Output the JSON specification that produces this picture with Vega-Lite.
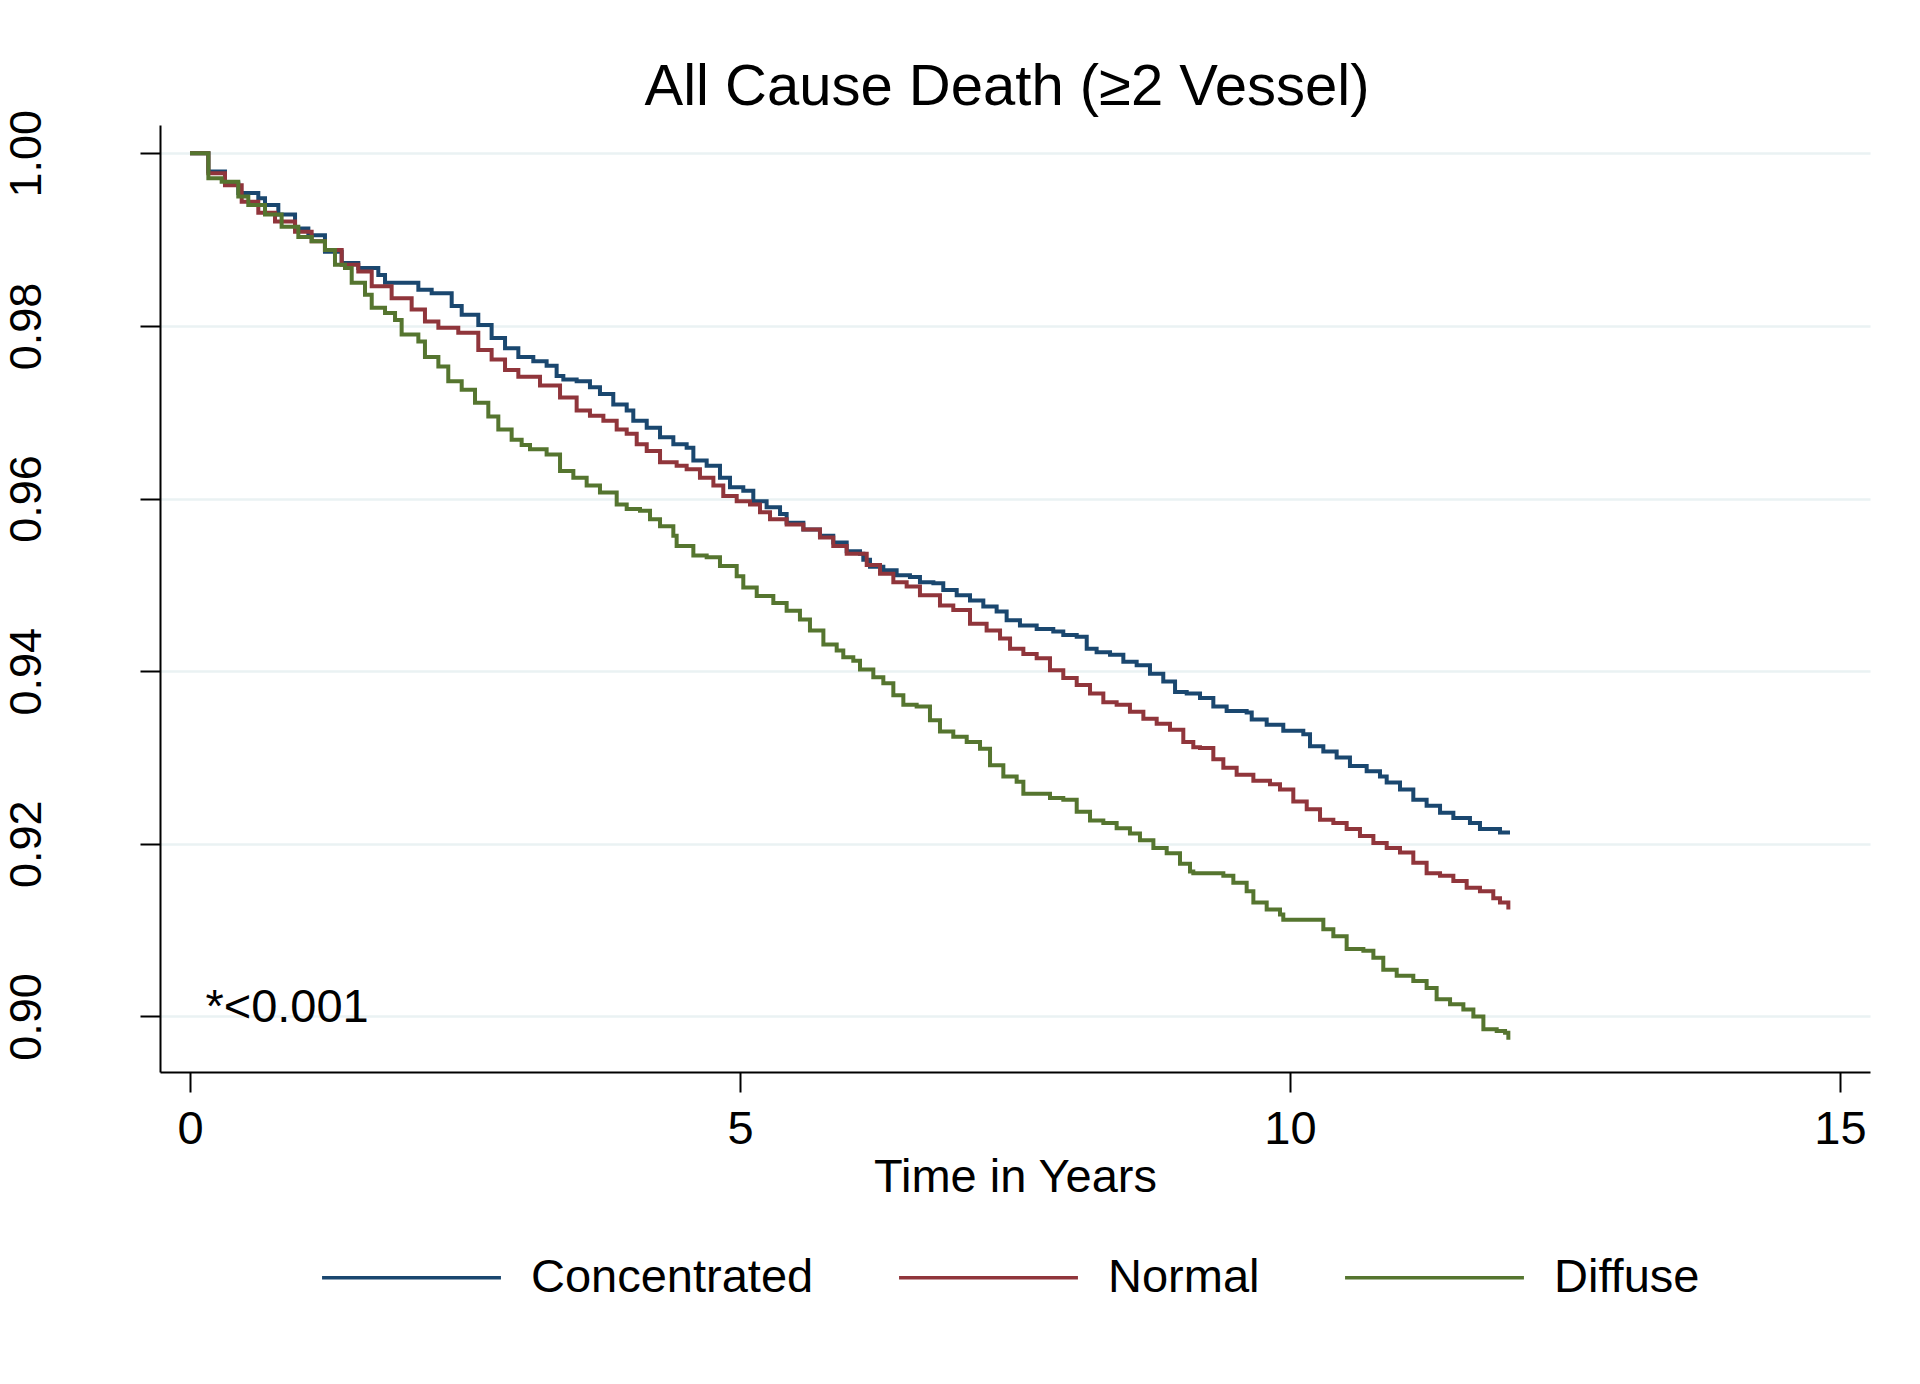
{
  "$schema": "https://vega.github.io/schema/vega-lite/v6.json",
  "autosize": "none",
  "width": 1710,
  "height": 947,
  "padding": {"left": 160, "top": 125, "right": 50, "bottom": 312},
  "background": "white",
  "config": {"view": {"stroke": null}, "font": "Liberation Sans"},
  "title": {"text": "All Cause Death (≥2 Vessel)", "fontSize": 58, "font": "Liberation Sans", "fontWeight": "normal", "color": "black", "offset": 12, "dy": 19, "anchor": "middle", "dx": -8},
  "layer": [
    {
      "data": {"values": [
        {"t":0,"s":1.0,"g":"Concentrated"},{"t":0.167,"s":0.9979,"g":"Concentrated"},{"t":0.318,"s":0.9965,"g":"Concentrated"},{"t":0.439,"s":0.9954,"g":"Concentrated"},{"t":0.621,"s":0.9948,"g":"Concentrated"},{"t":0.682,"s":0.994,"g":"Concentrated"},{"t":0.803,"s":0.9929,"g":"Concentrated"},{"t":0.955,"s":0.9913,"g":"Concentrated"},{"t":1.076,"s":0.9905,"g":"Concentrated"},{"t":1.227,"s":0.9886,"g":"Concentrated"},{"t":1.379,"s":0.9873,"g":"Concentrated"},{"t":1.53,"s":0.9867,"g":"Concentrated"},{"t":1.712,"s":0.9859,"g":"Concentrated"},{"t":1.773,"s":0.985,"g":"Concentrated"},{"t":2.076,"s":0.9842,"g":"Concentrated"},{"t":2.197,"s":0.9838,"g":"Concentrated"},{"t":2.379,"s":0.9823,"g":"Concentrated"},{"t":2.47,"s":0.9813,"g":"Concentrated"},{"t":2.621,"s":0.9801,"g":"Concentrated"},{"t":2.742,"s":0.9786,"g":"Concentrated"},{"t":2.864,"s":0.9774,"g":"Concentrated"},{"t":2.985,"s":0.9764,"g":"Concentrated"},{"t":3.121,"s":0.9759,"g":"Concentrated"},{"t":3.242,"s":0.9754,"g":"Concentrated"},{"t":3.333,"s":0.9742,"g":"Concentrated"},{"t":3.394,"s":0.9738,"g":"Concentrated"},{"t":3.515,"s":0.9736,"g":"Concentrated"},{"t":3.636,"s":0.9729,"g":"Concentrated"},{"t":3.727,"s":0.9721,"g":"Concentrated"},{"t":3.848,"s":0.9709,"g":"Concentrated"},{"t":3.97,"s":0.9702,"g":"Concentrated"},{"t":4.03,"s":0.969,"g":"Concentrated"},{"t":4.152,"s":0.9682,"g":"Concentrated"},{"t":4.273,"s":0.9671,"g":"Concentrated"},{"t":4.394,"s":0.9663,"g":"Concentrated"},{"t":4.515,"s":0.9659,"g":"Concentrated"},{"t":4.576,"s":0.9644,"g":"Concentrated"},{"t":4.697,"s":0.9638,"g":"Concentrated"},{"t":4.818,"s":0.9624,"g":"Concentrated"},{"t":4.909,"s":0.9613,"g":"Concentrated"},{"t":5.03,"s":0.9609,"g":"Concentrated"},{"t":5.121,"s":0.9597,"g":"Concentrated"},{"t":5.242,"s":0.959,"g":"Concentrated"},{"t":5.364,"s":0.9582,"g":"Concentrated"},{"t":5.424,"s":0.9572,"g":"Concentrated"},{"t":5.576,"s":0.9564,"g":"Concentrated"},{"t":5.727,"s":0.9557,"g":"Concentrated"},{"t":5.848,"s":0.9549,"g":"Concentrated"},{"t":5.97,"s":0.9539,"g":"Concentrated"},{"t":6.091,"s":0.9536,"g":"Concentrated"},{"t":6.121,"s":0.9529,"g":"Concentrated"},{"t":6.182,"s":0.9521,"g":"Concentrated"},{"t":6.303,"s":0.9517,"g":"Concentrated"},{"t":6.424,"s":0.9511,"g":"Concentrated"},{"t":6.545,"s":0.9509,"g":"Concentrated"},{"t":6.636,"s":0.9503,"g":"Concentrated"},{"t":6.758,"s":0.9502,"g":"Concentrated"},{"t":6.848,"s":0.9494,"g":"Concentrated"},{"t":6.97,"s":0.9488,"g":"Concentrated"},{"t":7.091,"s":0.9482,"g":"Concentrated"},{"t":7.212,"s":0.9475,"g":"Concentrated"},{"t":7.333,"s":0.9469,"g":"Concentrated"},{"t":7.424,"s":0.9459,"g":"Concentrated"},{"t":7.545,"s":0.9453,"g":"Concentrated"},{"t":7.697,"s":0.9449,"g":"Concentrated"},{"t":7.848,"s":0.9446,"g":"Concentrated"},{"t":7.939,"s":0.9442,"g":"Concentrated"},{"t":8.061,"s":0.944,"g":"Concentrated"},{"t":8.152,"s":0.9426,"g":"Concentrated"},{"t":8.242,"s":0.9422,"g":"Concentrated"},{"t":8.364,"s":0.9419,"g":"Concentrated"},{"t":8.485,"s":0.9411,"g":"Concentrated"},{"t":8.606,"s":0.9407,"g":"Concentrated"},{"t":8.727,"s":0.9397,"g":"Concentrated"},{"t":8.848,"s":0.9388,"g":"Concentrated"},{"t":8.955,"s":0.9376,"g":"Concentrated"},{"t":9.061,"s":0.9374,"g":"Concentrated"},{"t":9.182,"s":0.9369,"g":"Concentrated"},{"t":9.303,"s":0.9359,"g":"Concentrated"},{"t":9.424,"s":0.9354,"g":"Concentrated"},{"t":9.606,"s":0.9352,"g":"Concentrated"},{"t":9.652,"s":0.9344,"g":"Concentrated"},{"t":9.788,"s":0.9338,"g":"Concentrated"},{"t":9.939,"s":0.9331,"g":"Concentrated"},{"t":10.121,"s":0.9327,"g":"Concentrated"},{"t":10.182,"s":0.9313,"g":"Concentrated"},{"t":10.303,"s":0.9307,"g":"Concentrated"},{"t":10.424,"s":0.93,"g":"Concentrated"},{"t":10.545,"s":0.929,"g":"Concentrated"},{"t":10.697,"s":0.9284,"g":"Concentrated"},{"t":10.818,"s":0.9278,"g":"Concentrated"},{"t":10.879,"s":0.9271,"g":"Concentrated"},{"t":11.0,"s":0.9263,"g":"Concentrated"},{"t":11.121,"s":0.9251,"g":"Concentrated"},{"t":11.242,"s":0.9244,"g":"Concentrated"},{"t":11.364,"s":0.9236,"g":"Concentrated"},{"t":11.485,"s":0.923,"g":"Concentrated"},{"t":11.636,"s":0.9224,"g":"Concentrated"},{"t":11.727,"s":0.9217,"g":"Concentrated"},{"t":11.909,"s":0.9213,"g":"Concentrated"},{"t":12.0,"s":0.9213,"g":"Concentrated"},

        {"t":0,"s":1.0,"g":"Normal"},{"t":0.167,"s":0.9977,"g":"Normal"},{"t":0.318,"s":0.9963,"g":"Normal"},{"t":0.47,"s":0.9944,"g":"Normal"},{"t":0.621,"s":0.9931,"g":"Normal"},{"t":0.773,"s":0.9921,"g":"Normal"},{"t":0.955,"s":0.9909,"g":"Normal"},{"t":1.106,"s":0.9898,"g":"Normal"},{"t":1.227,"s":0.9888,"g":"Normal"},{"t":1.379,"s":0.9871,"g":"Normal"},{"t":1.53,"s":0.9863,"g":"Normal"},{"t":1.652,"s":0.9846,"g":"Normal"},{"t":1.833,"s":0.9832,"g":"Normal"},{"t":2.015,"s":0.9819,"g":"Normal"},{"t":2.136,"s":0.9805,"g":"Normal"},{"t":2.258,"s":0.9798,"g":"Normal"},{"t":2.439,"s":0.9792,"g":"Normal"},{"t":2.621,"s":0.9772,"g":"Normal"},{"t":2.742,"s":0.9761,"g":"Normal"},{"t":2.864,"s":0.9749,"g":"Normal"},{"t":2.985,"s":0.9741,"g":"Normal"},{"t":3.182,"s":0.9731,"g":"Normal"},{"t":3.364,"s":0.9717,"g":"Normal"},{"t":3.515,"s":0.9702,"g":"Normal"},{"t":3.636,"s":0.9696,"g":"Normal"},{"t":3.758,"s":0.969,"g":"Normal"},{"t":3.879,"s":0.968,"g":"Normal"},{"t":3.97,"s":0.9675,"g":"Normal"},{"t":4.061,"s":0.9663,"g":"Normal"},{"t":4.152,"s":0.9655,"g":"Normal"},{"t":4.273,"s":0.9642,"g":"Normal"},{"t":4.424,"s":0.9638,"g":"Normal"},{"t":4.515,"s":0.9634,"g":"Normal"},{"t":4.636,"s":0.9624,"g":"Normal"},{"t":4.758,"s":0.9615,"g":"Normal"},{"t":4.848,"s":0.9603,"g":"Normal"},{"t":4.97,"s":0.9597,"g":"Normal"},{"t":5.091,"s":0.9593,"g":"Normal"},{"t":5.182,"s":0.9584,"g":"Normal"},{"t":5.273,"s":0.9576,"g":"Normal"},{"t":5.424,"s":0.957,"g":"Normal"},{"t":5.576,"s":0.9564,"g":"Normal"},{"t":5.727,"s":0.9555,"g":"Normal"},{"t":5.848,"s":0.9545,"g":"Normal"},{"t":5.97,"s":0.9536,"g":"Normal"},{"t":6.152,"s":0.9523,"g":"Normal"},{"t":6.273,"s":0.9513,"g":"Normal"},{"t":6.394,"s":0.9503,"g":"Normal"},{"t":6.515,"s":0.9498,"g":"Normal"},{"t":6.636,"s":0.9488,"g":"Normal"},{"t":6.818,"s":0.9476,"g":"Normal"},{"t":6.939,"s":0.9471,"g":"Normal"},{"t":7.091,"s":0.9455,"g":"Normal"},{"t":7.242,"s":0.9447,"g":"Normal"},{"t":7.364,"s":0.9438,"g":"Normal"},{"t":7.455,"s":0.9426,"g":"Normal"},{"t":7.576,"s":0.942,"g":"Normal"},{"t":7.697,"s":0.9415,"g":"Normal"},{"t":7.818,"s":0.9401,"g":"Normal"},{"t":7.939,"s":0.9392,"g":"Normal"},{"t":8.061,"s":0.9384,"g":"Normal"},{"t":8.182,"s":0.9374,"g":"Normal"},{"t":8.303,"s":0.9364,"g":"Normal"},{"t":8.424,"s":0.9361,"g":"Normal"},{"t":8.545,"s":0.9353,"g":"Normal"},{"t":8.667,"s":0.9345,"g":"Normal"},{"t":8.788,"s":0.9339,"g":"Normal"},{"t":8.909,"s":0.9332,"g":"Normal"},{"t":9.03,"s":0.9318,"g":"Normal"},{"t":9.121,"s":0.9312,"g":"Normal"},{"t":9.182,"s":0.9311,"g":"Normal"},{"t":9.303,"s":0.9298,"g":"Normal"},{"t":9.394,"s":0.9288,"g":"Normal"},{"t":9.515,"s":0.928,"g":"Normal"},{"t":9.667,"s":0.9273,"g":"Normal"},{"t":9.818,"s":0.9269,"g":"Normal"},{"t":9.909,"s":0.9263,"g":"Normal"},{"t":10.03,"s":0.9249,"g":"Normal"},{"t":10.152,"s":0.924,"g":"Normal"},{"t":10.273,"s":0.9228,"g":"Normal"},{"t":10.394,"s":0.9224,"g":"Normal"},{"t":10.515,"s":0.9217,"g":"Normal"},{"t":10.636,"s":0.9209,"g":"Normal"},{"t":10.758,"s":0.9201,"g":"Normal"},{"t":10.879,"s":0.9195,"g":"Normal"},{"t":11.0,"s":0.919,"g":"Normal"},{"t":11.121,"s":0.9178,"g":"Normal"},{"t":11.242,"s":0.9166,"g":"Normal"},{"t":11.364,"s":0.9163,"g":"Normal"},{"t":11.485,"s":0.9157,"g":"Normal"},{"t":11.606,"s":0.9149,"g":"Normal"},{"t":11.727,"s":0.9145,"g":"Normal"},{"t":11.848,"s":0.9137,"g":"Normal"},{"t":11.909,"s":0.9132,"g":"Normal"},{"t":11.985,"s":0.9124,"g":"Normal"},

        {"t":0,"s":1.0,"g":"Diffuse"},{"t":0.167,"s":0.9971,"g":"Diffuse"},{"t":0.288,"s":0.9967,"g":"Diffuse"},{"t":0.439,"s":0.995,"g":"Diffuse"},{"t":0.53,"s":0.994,"g":"Diffuse"},{"t":0.682,"s":0.9929,"g":"Diffuse"},{"t":0.833,"s":0.9915,"g":"Diffuse"},{"t":0.985,"s":0.9903,"g":"Diffuse"},{"t":1.106,"s":0.9898,"g":"Diffuse"},{"t":1.227,"s":0.9888,"g":"Diffuse"},{"t":1.318,"s":0.9871,"g":"Diffuse"},{"t":1.409,"s":0.9867,"g":"Diffuse"},{"t":1.47,"s":0.985,"g":"Diffuse"},{"t":1.591,"s":0.9836,"g":"Diffuse"},{"t":1.652,"s":0.9821,"g":"Diffuse"},{"t":1.773,"s":0.9815,"g":"Diffuse"},{"t":1.864,"s":0.9807,"g":"Diffuse"},{"t":1.924,"s":0.979,"g":"Diffuse"},{"t":2.076,"s":0.9782,"g":"Diffuse"},{"t":2.136,"s":0.9764,"g":"Diffuse"},{"t":2.258,"s":0.9753,"g":"Diffuse"},{"t":2.348,"s":0.9736,"g":"Diffuse"},{"t":2.47,"s":0.9726,"g":"Diffuse"},{"t":2.591,"s":0.9711,"g":"Diffuse"},{"t":2.712,"s":0.9695,"g":"Diffuse"},{"t":2.803,"s":0.968,"g":"Diffuse"},{"t":2.924,"s":0.9668,"g":"Diffuse"},{"t":3.015,"s":0.9662,"g":"Diffuse"},{"t":3.091,"s":0.9657,"g":"Diffuse"},{"t":3.242,"s":0.9651,"g":"Diffuse"},{"t":3.364,"s":0.9632,"g":"Diffuse"},{"t":3.485,"s":0.9624,"g":"Diffuse"},{"t":3.606,"s":0.9615,"g":"Diffuse"},{"t":3.727,"s":0.9607,"g":"Diffuse"},{"t":3.879,"s":0.9593,"g":"Diffuse"},{"t":3.97,"s":0.9588,"g":"Diffuse"},{"t":4.091,"s":0.9586,"g":"Diffuse"},{"t":4.182,"s":0.9576,"g":"Diffuse"},{"t":4.273,"s":0.9568,"g":"Diffuse"},{"t":4.394,"s":0.9557,"g":"Diffuse"},{"t":4.424,"s":0.9545,"g":"Diffuse"},{"t":4.576,"s":0.9534,"g":"Diffuse"},{"t":4.697,"s":0.9532,"g":"Diffuse"},{"t":4.818,"s":0.9522,"g":"Diffuse"},{"t":4.97,"s":0.951,"g":"Diffuse"},{"t":5.03,"s":0.9497,"g":"Diffuse"},{"t":5.152,"s":0.9487,"g":"Diffuse"},{"t":5.303,"s":0.9479,"g":"Diffuse"},{"t":5.424,"s":0.947,"g":"Diffuse"},{"t":5.545,"s":0.946,"g":"Diffuse"},{"t":5.636,"s":0.9447,"g":"Diffuse"},{"t":5.758,"s":0.9431,"g":"Diffuse"},{"t":5.879,"s":0.9424,"g":"Diffuse"},{"t":5.939,"s":0.9416,"g":"Diffuse"},{"t":6.03,"s":0.9412,"g":"Diffuse"},{"t":6.091,"s":0.9402,"g":"Diffuse"},{"t":6.212,"s":0.9393,"g":"Diffuse"},{"t":6.303,"s":0.9386,"g":"Diffuse"},{"t":6.394,"s":0.9372,"g":"Diffuse"},{"t":6.485,"s":0.9361,"g":"Diffuse"},{"t":6.606,"s":0.9359,"g":"Diffuse"},{"t":6.727,"s":0.9343,"g":"Diffuse"},{"t":6.818,"s":0.933,"g":"Diffuse"},{"t":6.939,"s":0.9324,"g":"Diffuse"},{"t":7.061,"s":0.9318,"g":"Diffuse"},{"t":7.182,"s":0.931,"g":"Diffuse"},{"t":7.273,"s":0.9291,"g":"Diffuse"},{"t":7.394,"s":0.9278,"g":"Diffuse"},{"t":7.515,"s":0.9272,"g":"Diffuse"},{"t":7.576,"s":0.9258,"g":"Diffuse"},{"t":7.818,"s":0.9253,"g":"Diffuse"},{"t":7.939,"s":0.9251,"g":"Diffuse"},{"t":8.061,"s":0.9237,"g":"Diffuse"},{"t":8.182,"s":0.9227,"g":"Diffuse"},{"t":8.303,"s":0.9224,"g":"Diffuse"},{"t":8.424,"s":0.9218,"g":"Diffuse"},{"t":8.545,"s":0.9212,"g":"Diffuse"},{"t":8.636,"s":0.9204,"g":"Diffuse"},{"t":8.758,"s":0.9195,"g":"Diffuse"},{"t":8.879,"s":0.9189,"g":"Diffuse"},{"t":9.0,"s":0.9177,"g":"Diffuse"},{"t":9.091,"s":0.9168,"g":"Diffuse"},{"t":9.121,"s":0.9166,"g":"Diffuse"},{"t":9.394,"s":0.9163,"g":"Diffuse"},{"t":9.485,"s":0.9155,"g":"Diffuse"},{"t":9.606,"s":0.9145,"g":"Diffuse"},{"t":9.667,"s":0.9132,"g":"Diffuse"},{"t":9.788,"s":0.9124,"g":"Diffuse"},{"t":9.909,"s":0.9118,"g":"Diffuse"},{"t":9.939,"s":0.9112,"g":"Diffuse"},{"t":10.303,"s":0.9101,"g":"Diffuse"},{"t":10.394,"s":0.9093,"g":"Diffuse"},{"t":10.515,"s":0.9078,"g":"Diffuse"},{"t":10.667,"s":0.9076,"g":"Diffuse"},{"t":10.758,"s":0.9068,"g":"Diffuse"},{"t":10.848,"s":0.9054,"g":"Diffuse"},{"t":10.97,"s":0.9047,"g":"Diffuse"},{"t":11.121,"s":0.9041,"g":"Diffuse"},{"t":11.242,"s":0.9033,"g":"Diffuse"},{"t":11.333,"s":0.902,"g":"Diffuse"},{"t":11.455,"s":0.9014,"g":"Diffuse"},{"t":11.576,"s":0.9008,"g":"Diffuse"},{"t":11.667,"s":0.9,"g":"Diffuse"},{"t":11.758,"s":0.8985,"g":"Diffuse"},{"t":11.879,"s":0.8983,"g":"Diffuse"},{"t":11.955,"s":0.8981,"g":"Diffuse"},{"t":11.985,"s":0.8973,"g":"Diffuse"}
      ]},
      "mark": {"type": "line", "interpolate": "step-after", "strokeWidth": 4},
      "encoding": {
        "x": {"field": "t", "type": "quantitative",
              "scale": {"domain": [-0.2727, 15.2727], "nice": false, "zero": false},
              "axis": {"values": [0, 5, 10, 15], "format": "d", "title": "Time in Years", "titleFontSize": 47, "titleFontWeight": "normal", "titleColor": "black", "titleFont": "Liberation Sans", "titlePadding": 2,
                       "labelFontSize": 47, "labelFont": "Liberation Sans", "labelColor": "black", "labelPadding": 14, "labelFlush": false, "labelOverlap": false,
                       "tickSize": 20, "tickWidth": 2, "tickColor": "black", "domainColor": "black", "domainWidth": 2, "grid": false}},
        "y": {"field": "s", "type": "quantitative",
              "scale": {"domain": [0.89356, 1.00328], "nice": false, "zero": false},
              "axis": {"values": [0.9, 0.92, 0.94, 0.96, 0.98, 1.0], "format": ".2f", "title": null,
                       "labelFontSize": 45, "labelFont": "Liberation Sans", "labelColor": "black", "labelAngle": 270, "labelAlign": "center", "labelBaseline": "alphabetic", "labelPadding": 100, "labelFlush": false, "labelOverlap": false,
                       "tickSize": 20, "tickWidth": 2, "tickColor": "black", "domainColor": "black", "domainWidth": 2,
                       "grid": true, "gridColor": "#eaf2f3", "gridWidth": 2.5}},
        "color": {"field": "g", "type": "nominal",
                  "scale": {"domain": ["Concentrated", "Normal", "Diffuse"], "range": ["#1a476f", "#90353b", "#55752f"]},
                  "legend": {"orient": "none", "legendX": 160, "legendY": 1061, "direction": "horizontal", "columns": 3, "title": null,
                             "symbolType": "stroke", "symbolSize": 32000, "symbolStrokeWidth": 3.5,
                             "labelFontSize": 47, "labelFont": "Liberation Sans", "labelColor": "black", "labelOffset": 28, "columnPadding": 78, "padding": 0, "labelLimit": 0}}
      }
    },
    {
      "data": {"values": [{"x": 0.14, "y": 0.8993, "label": "*<0.001"}]},
      "mark": {"type": "text", "align": "left", "baseline": "alphabetic", "fontSize": 47, "font": "Liberation Sans", "color": "black"},
      "encoding": {
        "x": {"field": "x", "type": "quantitative", "scale": {"domain": [-0.2727, 15.2727], "nice": false, "zero": false}},
        "y": {"field": "y", "type": "quantitative", "scale": {"domain": [0.89356, 1.00328], "nice": false, "zero": false}},
        "text": {"field": "label"}
      }
    }
  ]
}
